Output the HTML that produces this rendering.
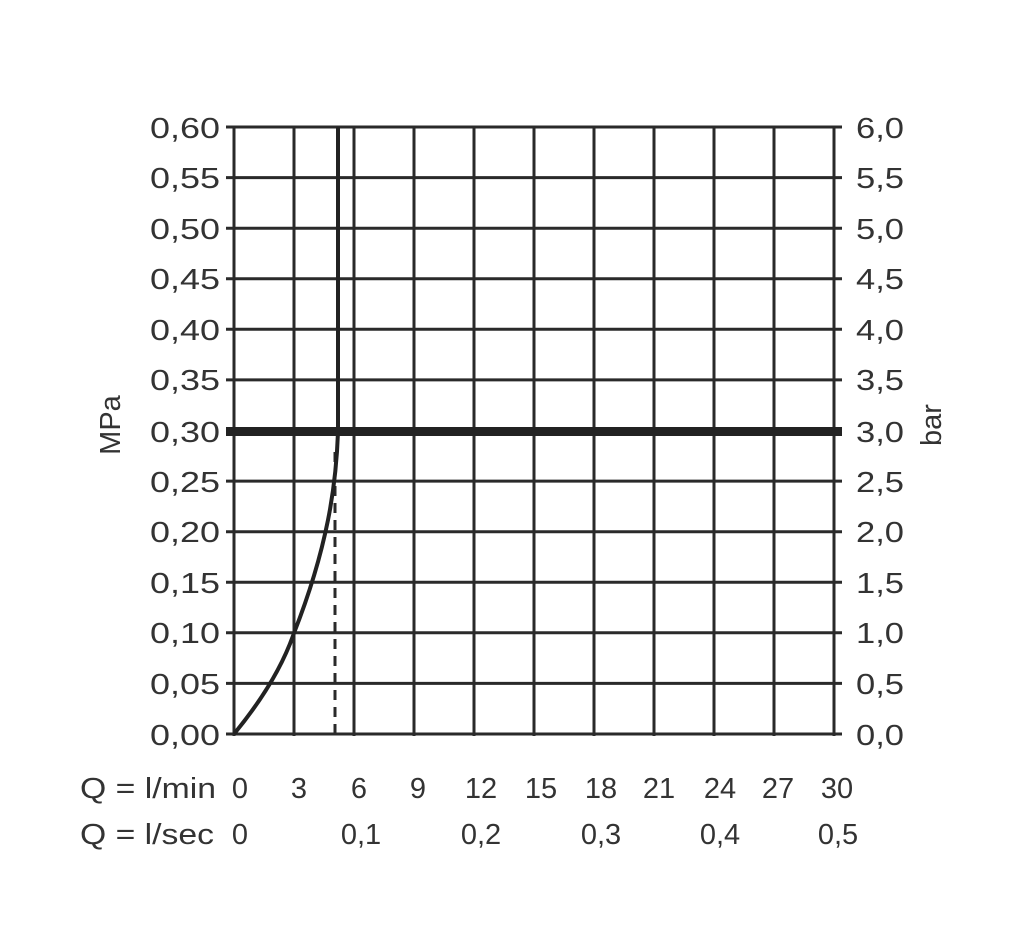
<!DOCTYPE html>
<html><head><meta charset="utf-8"><style>
html,body{margin:0;padding:0;background:#fff;}
svg{display:block;}
text{font-family:"Liberation Sans",sans-serif;fill:#333;font-size:29px;}
</style></head><body>
<svg width="1032" height="945" viewBox="0 0 1032 945" xmlns="http://www.w3.org/2000/svg">
<g stroke="#2a2a2a" stroke-width="3" fill="none">
<line x1="234" y1="127" x2="234" y2="736"/>
<line x1="294" y1="127" x2="294" y2="736"/>
<line x1="354" y1="127" x2="354" y2="736"/>
<line x1="414" y1="127" x2="414" y2="736"/>
<line x1="474" y1="127" x2="474" y2="736"/>
<line x1="534" y1="127" x2="534" y2="736"/>
<line x1="594" y1="127" x2="594" y2="736"/>
<line x1="654" y1="127" x2="654" y2="736"/>
<line x1="714" y1="127" x2="714" y2="736"/>
<line x1="774" y1="127" x2="774" y2="736"/>
<line x1="834" y1="127" x2="834" y2="736"/>
<line x1="226" y1="127.0" x2="842" y2="127.0"/>
<line x1="226" y1="177.6" x2="842" y2="177.6"/>
<line x1="226" y1="228.2" x2="842" y2="228.2"/>
<line x1="226" y1="278.7" x2="842" y2="278.7"/>
<line x1="226" y1="329.3" x2="842" y2="329.3"/>
<line x1="226" y1="379.9" x2="842" y2="379.9"/>
<line x1="226" y1="481.1" x2="842" y2="481.1"/>
<line x1="226" y1="531.7" x2="842" y2="531.7"/>
<line x1="226" y1="582.3" x2="842" y2="582.3"/>
<line x1="226" y1="632.8" x2="842" y2="632.8"/>
<line x1="226" y1="683.4" x2="842" y2="683.4"/>
<line x1="226" y1="734.0" x2="842" y2="734.0"/>
</g>
<line x1="226" y1="431.5" x2="842" y2="431.5" stroke="#222" stroke-width="9"/>
<line x1="335" y1="452" x2="335" y2="734" stroke="#2a2a2a" stroke-width="3" stroke-dasharray="10,7"/>
<path d="M234,734 C262,700 283,665 294,633 C307,600 320,560 328,520 C334,490 337,460 338,432 L338,127" stroke="#222" stroke-width="4" fill="none"/>
<g text-anchor="end">
<text x="220" y="138" textLength="70" lengthAdjust="spacingAndGlyphs">0,60</text>
<text x="220" y="188" textLength="70" lengthAdjust="spacingAndGlyphs">0,55</text>
<text x="220" y="239" textLength="70" lengthAdjust="spacingAndGlyphs">0,50</text>
<text x="220" y="289" textLength="70" lengthAdjust="spacingAndGlyphs">0,45</text>
<text x="220" y="340" textLength="70" lengthAdjust="spacingAndGlyphs">0,40</text>
<text x="220" y="390" textLength="70" lengthAdjust="spacingAndGlyphs">0,35</text>
<text x="220" y="442" textLength="70" lengthAdjust="spacingAndGlyphs">0,30</text>
<text x="220" y="492" textLength="70" lengthAdjust="spacingAndGlyphs">0,25</text>
<text x="220" y="542" textLength="70" lengthAdjust="spacingAndGlyphs">0,20</text>
<text x="220" y="593" textLength="70" lengthAdjust="spacingAndGlyphs">0,15</text>
<text x="220" y="643" textLength="70" lengthAdjust="spacingAndGlyphs">0,10</text>
<text x="220" y="694" textLength="70" lengthAdjust="spacingAndGlyphs">0,05</text>
<text x="220" y="745" textLength="70" lengthAdjust="spacingAndGlyphs">0,00</text>
</g>
<g text-anchor="start">
<text x="856" y="138" textLength="48" lengthAdjust="spacingAndGlyphs">6,0</text>
<text x="856" y="188" textLength="48" lengthAdjust="spacingAndGlyphs">5,5</text>
<text x="856" y="239" textLength="48" lengthAdjust="spacingAndGlyphs">5,0</text>
<text x="856" y="289" textLength="48" lengthAdjust="spacingAndGlyphs">4,5</text>
<text x="856" y="340" textLength="48" lengthAdjust="spacingAndGlyphs">4,0</text>
<text x="856" y="390" textLength="48" lengthAdjust="spacingAndGlyphs">3,5</text>
<text x="856" y="442" textLength="48" lengthAdjust="spacingAndGlyphs">3,0</text>
<text x="856" y="492" textLength="48" lengthAdjust="spacingAndGlyphs">2,5</text>
<text x="856" y="542" textLength="48" lengthAdjust="spacingAndGlyphs">2,0</text>
<text x="856" y="593" textLength="48" lengthAdjust="spacingAndGlyphs">1,5</text>
<text x="856" y="643" textLength="48" lengthAdjust="spacingAndGlyphs">1,0</text>
<text x="856" y="694" textLength="48" lengthAdjust="spacingAndGlyphs">0,5</text>
<text x="856" y="745" textLength="48" lengthAdjust="spacingAndGlyphs">0,0</text>
</g>
<text transform="translate(120,425) rotate(-90)" text-anchor="middle">MPa</text>
<text transform="translate(941,425) rotate(-90)" text-anchor="middle">bar</text>
<text x="80" y="798" textLength="136" lengthAdjust="spacingAndGlyphs">Q = l/min</text>
<text x="80" y="844" textLength="134" lengthAdjust="spacingAndGlyphs">Q = l/sec</text>
<g text-anchor="middle">
<text x="240" y="798">0</text>
<text x="299" y="798">3</text>
<text x="359" y="798">6</text>
<text x="418" y="798">9</text>
<text x="481" y="798">12</text>
<text x="541" y="798">15</text>
<text x="601" y="798">18</text>
<text x="659" y="798">21</text>
<text x="720" y="798">24</text>
<text x="778" y="798">27</text>
<text x="837" y="798">30</text>
<text x="240" y="844">0</text>
<text x="361" y="844">0,1</text>
<text x="481" y="844">0,2</text>
<text x="601" y="844">0,3</text>
<text x="720" y="844">0,4</text>
<text x="838" y="844">0,5</text>
</g>
</svg>
</body></html>
